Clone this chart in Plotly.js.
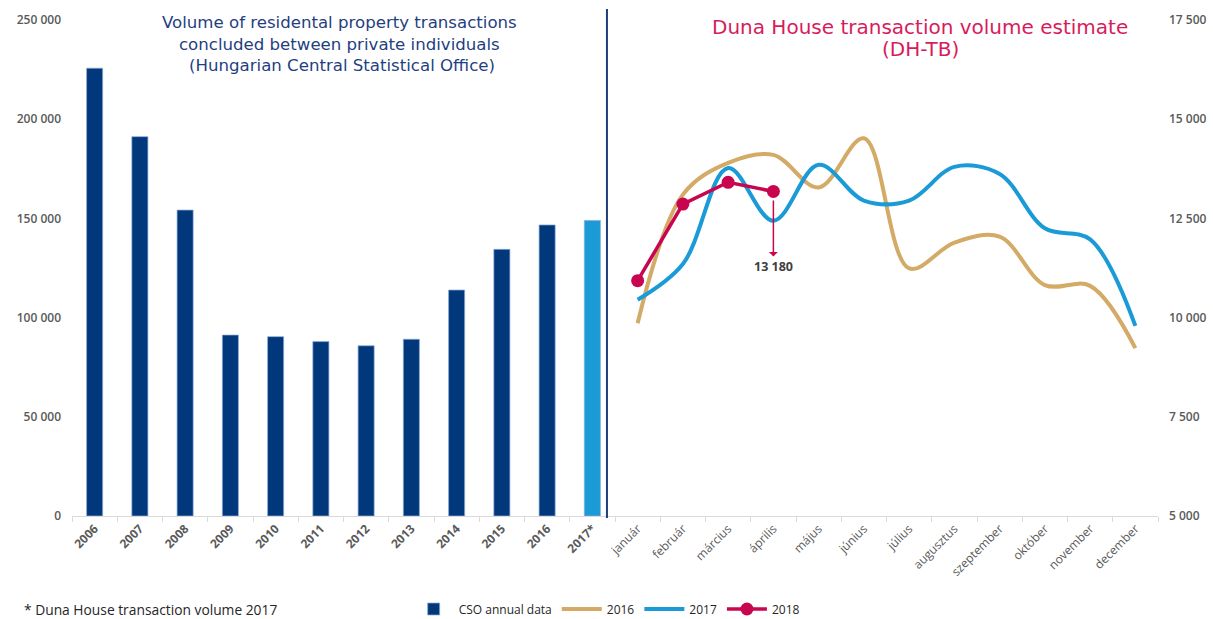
<!DOCTYPE html>
<html>
<head>
<meta charset="utf-8">
<script src="https://cdn.plot.ly/plotly-3.0.1.min.js"></script>
<style>html,body{margin:0;padding:0;background:#fff;}#chart{width:1213px;height:619px;}</style>
</head>
<body>
<div id="chart"></div>
<script>
// ---- data ----
const years = ['2006','2007','2008','2009','2010','2011','2012','2013','2014','2015','2016','2017*'];
const months = ['január','február','március','április','május','június','július','augusztus','szeptember','október','november','december'];
const csoValues = [225700,191200,154200,91200,90400,87900,85800,89100,113900,134400,146700,149000];
const dh2016 = [9860,13100,13900,14100,13280,14520,11240,11890,12040,10820,10800,9230];
const dh2017 = [10450,11350,13770,12440,13850,12950,12950,13800,13620,12250,11970,9790];
const dh2018 = [10930,12860,13410,13180];
const months2018 = months.slice(0, dh2018.length);
const highlightLabel = '13 180';

const allCats = years.concat(months);
const tickText = years.map(y => '<b>' + y + '</b>').concat(months);

const font = '"Open Sans", sans-serif';
const titleFont = '"DejaVu Sans", Verdana, sans-serif';

const barColors = years.map((y, i) => i === years.length - 1 ? '#1a9ad6' : '#00387b');

const traces = [
  {
    type: 'bar', name: 'CSO annual data', x: years, y: csoValues,
    marker: {color: barColors, line: {color: 'rgba(140,170,215,0.9)', width: 0.8}},
    yaxis: 'y', hoverinfo: 'x+y'
  },
  {
    type: 'scatter', mode: 'lines', name: '2016', x: months, y: dh2016,
    line: {color: '#d3aa66', width: 4, shape: 'spline', smoothing: 1.0},
    yaxis: 'y2'
  },
  {
    type: 'scatter', mode: 'lines', name: '2017', x: months, y: dh2017,
    line: {color: '#1a9ad6', width: 4, shape: 'spline', smoothing: 1.0},
    yaxis: 'y2'
  },
  {
    type: 'scatter', mode: 'lines+markers', name: '2018', x: months2018, y: dh2018,
    line: {color: '#c8064f', width: 3.5},
    marker: {color: '#c8064f', size: 13},
    yaxis: 'y2'
  }
];

const layout = {
  width: 1213, height: 619,
  margin: {l: 72, r: 55, t: 20, b: 103, autoexpand: false},
  paper_bgcolor: '#ffffff', plot_bgcolor: '#ffffff',
  separators: ', ',
  font: {family: font, size: 12, color: '#595959'},
  bargap: 0.645,
  showlegend: true,
  legend: {
    orientation: 'h', x: 0.31, xanchor: 'left', y: -0.1875, yanchor: 'middle',
    font: {family: font, size: 12, color: '#262626'}, itemwidth: 40, tracegroupgap: 0
  },
  xaxis: {
    type: 'category', categoryorder: 'array', categoryarray: allCats,
    tickvals: allCats, ticktext: tickText,
    range: [-0.5, allCats.length - 0.5],
    tickson: 'boundaries', ticks: 'outside', ticklen: 5, tickcolor: '#d9d9d9',
    showline: true, linecolor: '#d9d9d9', linewidth: 1,
    showgrid: false, zeroline: false, tickangle: -45, automargin: false,
    tickfont: {family: font, size: 12, color: '#595959'}
  },
  yaxis: {
    range: [0, 250000], dtick: 50000, tickformat: ',d',
    showgrid: false, zeroline: false, showline: false, ticks: '',
    ticklabelstandoff: 10, automargin: false,
    tickfont: {family: font, size: 12, color: '#595959', weight: 600}
  },
  yaxis2: {
    overlaying: 'y', side: 'right', range: [5000, 17500], dtick: 2500, tickformat: ',d',
    showgrid: false, zeroline: false, showline: false, ticks: '',
    ticklabelstandoff: 10, automargin: false,
    tickfont: {family: font, size: 12, color: '#595959', weight: 600}
  },
  shapes: [
    {type: 'line', xref: 'paper', yref: 'paper', x0: 0.4926, x1: 0.4926, y0: -0.004, y1: 1.022,
     line: {color: '#1f3e7a', width: 2}}
  ],
  annotations: [
    {xref: 'paper', yref: 'paper', x: 0.246, y: 1.018, xanchor: 'center', yanchor: 'top',
     text: 'Volume of residental property transactions<br>concluded between private individuals<br> (Hungarian Central Statistical Office)',
     showarrow: false, font: {family: titleFont, size: 16.6, color: '#1f3f7f'}},
    {xref: 'paper', yref: 'paper', x: 0.781, y: 0.985, xanchor: 'center', yanchor: 'middle',
     text: 'Duna House transaction volume estimate',
     showarrow: false, font: {family: titleFont, size: 20, color: '#d81b5c'}},
    {xref: 'paper', yref: 'paper', x: 0.781, y: 0.942, xanchor: 'center', yanchor: 'middle',
     text: '(DH-TB)',
     showarrow: false, font: {family: titleFont, size: 20, color: '#d81b5c'}},
    {xref: 'paper', yref: 'paper', x: -0.046, y: -0.1875, xanchor: 'left', yanchor: 'middle',
     text: '* Duna House transaction volume 2017', showarrow: false,
     font: {family: font, size: 13.8, color: '#262626'}},
    {xref: 'x', yref: 'y2', x: months2018[months2018.length - 1], y: dh2018[dh2018.length - 1],
     ax: 0, ay: 75, text: '<b>' + highlightLabel + '</b>', showarrow: true,
     arrowside: 'start', arrowhead: 2, arrowsize: 1.2, arrowwidth: 1.5, arrowcolor: '#c8064f',
     standoff: 9, font: {family: font, size: 12.5, color: '#404040'}}
  ]
};

Plotly.newPlot('chart', traces, layout, {displayModeBar: false, staticPlot: true});
</script>
</body>
</html>
